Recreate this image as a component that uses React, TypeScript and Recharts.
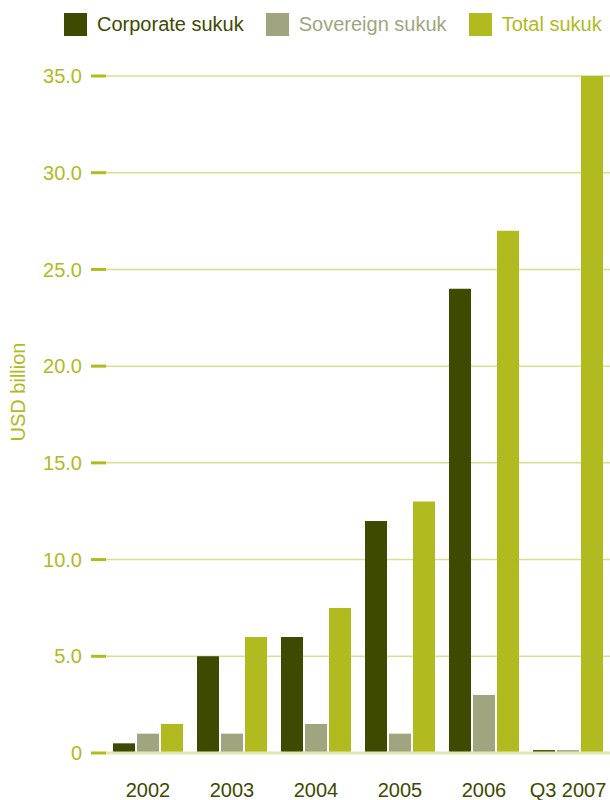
import React from 'react';
import { BarChart, Bar, XAxis, YAxis, CartesianGrid, Legend } from 'recharts';

const years = ['2002', '2003', '2004', '2005', '2006', 'Q3 2007'];
const corporate = [0.5, 5, 6, 12, 24, 0.15];
const sovereign = [1, 1, 1.5, 1, 3, 0.15];
const total = [1.5, 6, 7.5, 13, 27, 35];
const yTicks = [0, 5, 10, 15, 20, 25, 30, 35];

const data = years.map((name, i) => ({
  name,
  corporate: corporate[i],
  sovereign: sovereign[i],
  total: total[i],
}));

const series = [
  { key: 'corporate', label: 'Corporate sukuk', color: '#3e4a00' },
  { key: 'sovereign', label: 'Sovereign sukuk', color: '#a0a580' },
  { key: 'total', label: 'Total sukuk', color: '#b1ba1e' },
];

const font = '"Liberation Sans", Arial, Helvetica, sans-serif';

const LegendBox = () => (
  <div
    style={{
      display: 'flex',
      alignItems: 'center',
      paddingLeft: 64,
      width: 610,
      boxSizing: 'border-box',
      whiteSpace: 'nowrap',
      fontFamily: font,
      fontSize: 20,
    }}
  >
    {series.map((s) => (
      <div key={s.key} style={{ display: 'flex', alignItems: 'center', marginRight: 22, flexShrink: 0 }}>
        <span style={{ width: 23, height: 23, background: s.color, display: 'inline-block', marginRight: 10 }} />
        <span style={{ color: s.color }}>{s.label}</span>
      </div>
    ))}
  </div>
);

const App: React.FC = () => {
  return (
    <div style={{ position: 'absolute', left: 0, top: 0, fontFamily: font }}>
      <BarChart
        width={610}
        height={800}
        data={data}
        margin={{ top: 76, right: 0, bottom: 0, left: 0 }}
        barCategoryGap={7}
        barGap={2}
      >
        <CartesianGrid vertical={false} stroke="#d9df8f" strokeWidth={1.5} />
        <XAxis
          dataKey="name"
          height={47}
          tickLine={false}
          axisLine={{ stroke: '#e2e7b4', strokeWidth: 3 }}
          tickMargin={24}
          tick={{ fill: '#3e4a00', fontSize: 20, fontFamily: font }}
        />
        <YAxis
          width={106}
          domain={[0, 35]}
          ticks={yTicks}
          interval={0}
          axisLine={false}
          tickSize={15}
          tickMargin={9}
          tickLine={{ stroke: '#b1ba1e', strokeWidth: 3 }}
          tick={{ fill: '#b1ba1e', fontSize: 20, fontFamily: font }}
          tickFormatter={(v: number) => (v === 0 ? '0' : v.toFixed(1))}
          label={() => (
            <text
              x={18}
              y={392}
              transform="rotate(-90 18 392)"
              textAnchor="middle"
              dominantBaseline="central"
              fill="#b1ba1e"
              fontSize={20}
              fontFamily={font}
            >
              USD billion
            </text>
          )}
        />
        <Legend
          verticalAlign="middle"
          align="center"
          wrapperStyle={{ top: 13, left: 0, width: 610 }}
          content={() => <LegendBox />}
        />
        {series.map((s) => (
          <Bar key={s.key} dataKey={s.key} name={s.label} fill={s.color} isAnimationActive={false} />
        ))}
      </BarChart>
    </div>
  );
};

export default App;
